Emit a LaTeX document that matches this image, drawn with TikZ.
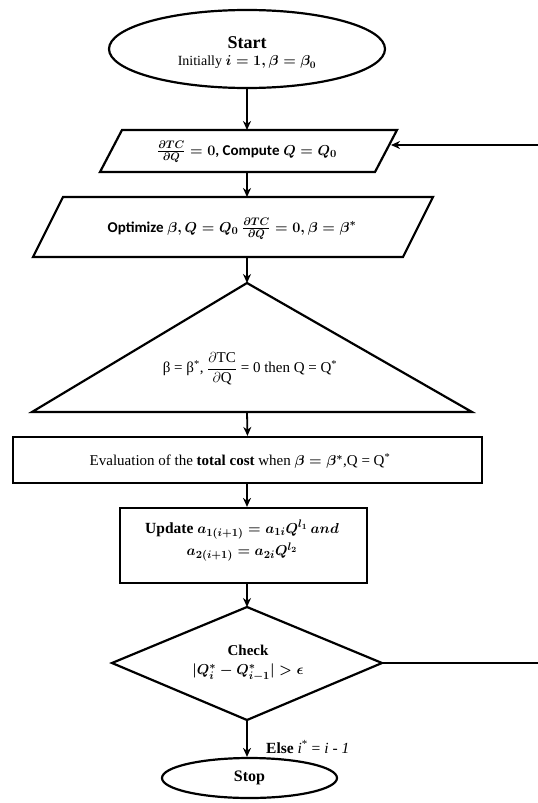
\documentclass[tikz,border=0pt]{standalone}
\usepackage{amsmath}
\usepackage{fontspec}
\setmainfont{Liberation Serif}
\newfontfamily\calfont{Carlito}
\usetikzlibrary{shapes.geometric,arrows.meta}
\begin{document}
\begin{tikzpicture}[x=1pt,y=-1pt,
  shapeline/.style={draw=black,line width=2.2pt,line join=miter},
  conn/.style={line width=1.8pt,-{Stealth[length=9pt,width=8pt]}},
  plainconn/.style={line width=1.8pt},
  txt/.style={align=center,inner sep=0pt,font=\fontsize{15}{18}\selectfont},
  btxt/.style={align=center,inner sep=0pt,font=\fontsize{15}{18}\selectfont\boldmath},
  oval/.style={shapeline,ellipse,inner sep=0pt},
  boxnode/.style={shapeline,rectangle,inner sep=0pt}]
\useasboundingbox (0,0) rectangle (538,803);
\fill[white] (0,0) rectangle (538,803);

% Start
\node[oval,minimum width=276pt,minimum height=78pt] (start) at (247,49) {};
\node[txt,font=\fontsize{14}{16}\selectfont\boldmath] (starttxt) at (247,53) {{\fontsize{18}{20}\selectfont\bfseries Start}\\[1pt]
  {Initially $i=1,\beta=\beta_0$}};

% Parallelogram 1
\draw[shapeline] (100,172) -- (122,130) -- (397,130) -- (375,172) -- cycle;
\coordinate (p1t) at (247,130);
\coordinate (p1b) at (247,172);
\coordinate (p1r) at (391,145);
\node[btxt] (p1txt) at (247,152) {$\tfrac{\partial TC}{\partial Q}=0$\textbf{\calfont , Compute} $Q=Q_0$};

% Parallelogram 2
\draw[shapeline] (33,257) -- (63,197) -- (433,197) -- (403,257) -- cycle;
\coordinate (p2t) at (247,197);
\coordinate (p2b) at (247,257);
\node[btxt] (p2txt) at (232,229) {\textbf{\calfont Optimize} $\beta,Q=Q_0\ \tfrac{\partial TC}{\partial Q}=0,\beta=\beta^*$};

% Triangle
\draw[shapeline] (247,283) -- (472,412) -- (32,412) -- cycle;
\coordinate (trit) at (247,283);
\coordinate (trib) at (247,412);
\node[txt] (tritxt) at (250,369) {β = β\textsuperscript{*}, $\dfrac{\partial\mathrm{TC}}{\partial\mathrm{Q}}$ = 0 then Q = Q\textsuperscript{*}};

% Rect 1
\node[boxnode,minimum width=469pt,minimum height=46pt] (eval) at (247.5,460) {};
\node[txt,font=\fontsize{15}{18}\selectfont\boldmath] (evaltxt) at (240,461) {Evaluation of the \textbf{total cost} when $\beta=\beta^*$,Q = Q\textsuperscript{*}};

% Rect 2
\node[boxnode,minimum width=247pt,minimum height=75pt] (upd) at (243.5,545.5) {};
\node[btxt,font=\fontsize{15.5}{18}\selectfont\boldmath] (updtxt) at (242,541) {\textbf{Update} $a_{1(i+1)}=a_{1i}Q^{l_1}\,and$\\[3pt] $a_{2(i+1)}=a_{2i}Q^{l_2}$};

% Diamond
\draw[shapeline] (247,607) -- (382,663) -- (247,720) -- (112,663) -- cycle;
\coordinate (dt) at (247,607);
\coordinate (db) at (247,720);
\coordinate (dr) at (382,663);
\node[btxt] (dtxt) at (248,663) {\textbf{Check}\\[1pt] $|Q_i^*-Q_{i-1}^*|>\epsilon$};

% Stop
\node[oval,minimum width=175pt,minimum height=40pt] (stop) at (249.5,778) {};
\node[txt] (stoptxt) at (249.5,778) {\fontsize{16}{18}\selectfont\bfseries Stop};

% Connectors
\draw[conn] (start.south) -- (p1t);
\draw[conn] (p1b) -- (p2t);
\draw[conn] (p2b) -- (trit);
\draw[conn] (trib) -- (eval.north);
\draw[conn] ([xshift=3.5pt]eval.south -| upd.north) -- ([xshift=3.5pt]upd.north);
\draw[conn] ([xshift=3.5pt]upd.south) -- (dt);
\draw[conn] (db) -- (db |- stop.north);
\node[txt,anchor=west,font=\fontsize{15.5}{18}\selectfont] (elselbl) at (266,747) {\textbf{Else} \textit{i}\textsuperscript{*} = \textit{i - 1}};

% Feedback loop
\coordinate (fbr) at (545,663);
\coordinate (fbt) at (545,145);
\draw[plainconn] (dr) -- (fbr) -- (fbt);
\draw[conn] (fbt) -- (p1r);
\end{tikzpicture}
\end{document}
